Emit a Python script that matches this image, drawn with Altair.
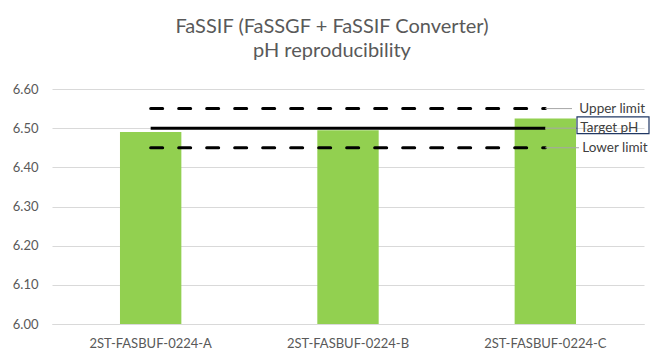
import altair as alt
import pandas as pd

# ---- data ----
categories = ["2ST-FASBUF-0224-A", "2ST-FASBUF-0224-B", "2ST-FASBUF-0224-C"]
ph_values = [6.49, 6.495, 6.525]
upper_limit = [6.55, 6.55, 6.55]
target_ph = [6.50, 6.50, 6.50]
lower_limit = [6.45, 6.45, 6.45]
limit_names = ["Upper limit", "Target pH", "Lower limit"]
limit_levels = [6.55, 6.50, 6.45]
y_ticks = [6.00, 6.10, 6.20, 6.30, 6.40, 6.50, 6.60]
title_lines = ["FaSSIF (FaSSGF + FaSSIF Converter)", "pH reproducibility"]

# ---- layout / style ----
W, H = 592, 235
FONT = "Lato"
TXT = "#595959"
GRID = "#d9d9d9"
BAR = "#92d050"
LEAD_END = [520, 525, 527]
LABEL_DX = [34, 35, 37]

df = pd.DataFrame({
    "cat": categories,
    "ph": ph_values,
    "upper": upper_limit,
    "target": target_ph,
    "lower": lower_limit,
})
lab = pd.DataFrame({
    "cat": [categories[-1]] * 3,
    "name": limit_names,
    "level": limit_levels,
})

x_scale = alt.Scale(domain=categories, paddingInner=0.689, paddingOuter=0.3445)
x_axis = alt.Axis(
    title=None, labelAngle=0, ticks=False, labelPadding=13,
    domainColor=GRID, domainWidth=1, grid=False,
    labelFont=FONT, labelFontSize=13, labelColor=TXT,
)
y_scale = alt.Scale(domain=[6.0, 6.6], nice=False, zero=False)
y_axis = alt.Axis(
    title=None, values=y_ticks, format=".2f", ticks=False, domain=False,
    labelPadding=14, gridColor=GRID, gridWidth=1, labelOverlap=False,
    labelFont=FONT, labelFontSize=13, labelColor=TXT,
)


def xc():
    return alt.X("cat:N", scale=x_scale, axis=x_axis)


def yq(field):
    return alt.Y(field, type="quantitative", scale=y_scale, axis=y_axis)


base = alt.Chart(df)

bars = base.mark_bar(color=BAR).encode(x=xc(), y=yq("ph"), y2=alt.datum(6.0))

upper = base.mark_line(color="black", strokeWidth=3, strokeDash=[12, 16], strokeCap="round").encode(
    x=xc(), y=yq("upper"))
target = base.mark_line(color="black", strokeWidth=3).encode(
    x=xc(), y=yq("target"))
lower = base.mark_line(color="black", strokeWidth=3, strokeDash=[12, 16], strokeCap="round").encode(
    x=xc(), y=yq("lower"))

leaders = []
texts = []
for name, end, dxv in zip(limit_names, LEAD_END, LABEL_DX):
    sub = alt.Chart(lab).transform_filter(alt.datum.name == name)
    leaders.append(
        sub.mark_rule(color="#a6a6a6", strokeWidth=1).encode(
            x=xc(), x2=alt.value(end), y=yq("level"))
    )
    texts.append(
        sub.mark_text(
            align="left", baseline="middle", font=FONT, fontSize=13.5,
            color="#404040", dx=dxv,
        ).encode(x=xc(), y=yq("level"), text="name:N")
    )

box = alt.Chart(lab).transform_filter(alt.datum.name == "Target pH").mark_rect(
    fill="white", fillOpacity=0, stroke="#203864", strokeWidth=1.2
).encode(
    x=alt.value(525), x2=alt.value(597),
    y=alt.Y(datum=6.5286, type="quantitative", scale=y_scale, axis=y_axis),
    y2=alt.datum(6.4859),
)

chart = alt.layer(bars, upper, target, lower, *leaders, box, *texts).properties(
    width=W,
    height=H,
    padding={"left": 44, "top": 81, "right": 8, "bottom": 25},
    autosize=alt.AutoSizeParams(type="none"),
    title=alt.TitleParams(
        text=title_lines, font=FONT, fontSize=20, fontWeight="normal",
        color=TXT, anchor="middle", dx=-16, offset=22, lineHeight=24,
    ),
).configure_view(stroke=None)

chart.save("out.html", embed_options={"renderer": "svg", "actions": False})
